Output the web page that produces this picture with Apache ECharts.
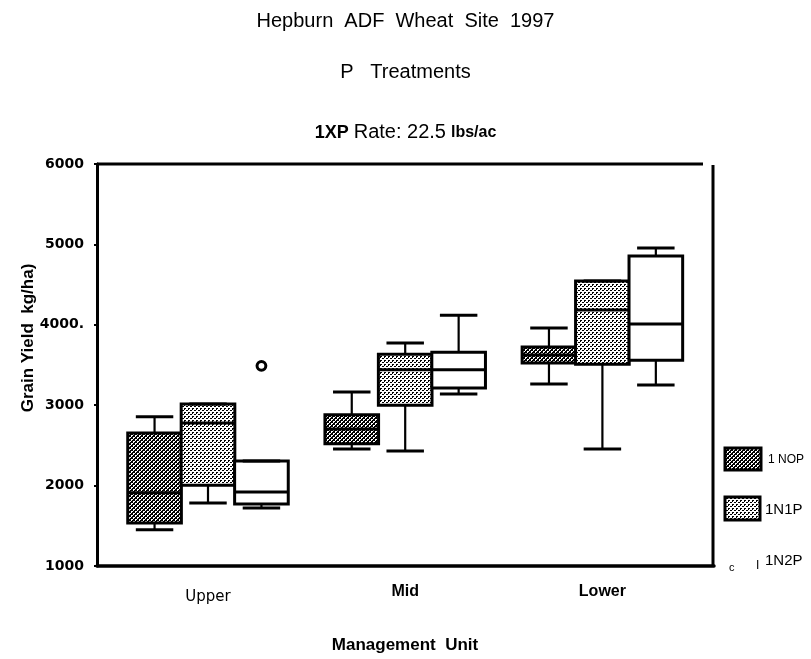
<!DOCTYPE html>
<html>
<head>
<meta charset="utf-8">
<script src="https://cdn.jsdelivr.net/npm/echarts@6/dist/echarts.min.js"></script>
<style>html,body{margin:0;padding:0;background:#fff}#c{width:811px;height:659px}</style>
</head>
<body>
<div id="c"></div>
<script>
// ---- data ----
const categories = ['Upper', 'Mid', 'Lower'];
const seriesNames = ['1 NOP', '1N1P', '1N2P'];
// [low whisker, Q1, median, Q3, high whisker] per category
const nopValues = [[1450, 1535, 1910, 2655, 2855], [2455, 2520, 2705, 2880, 3165], [3265, 3525, 3625, 3725, 3960]];
const n1pValues = [[1785, 2005, 2780, 3015, 3015], [2430, 3000, 3440, 3635, 3775], [2455, 3510, 4185, 4545, 4545]];
const n2pValues = [[1720, 1770, 1920, 2305, 2305], [3140, 3215, 3440, 3660, 4120], [3250, 3560, 4010, 4855, 4955]];
const n2pOutliers = [[0, 3490]];
const yTickLabels = ['1000', '2000', '3000', '4000.', '5000', '6000'];
const yMin = 1000, yMax = 6000, yStep = 1000;

// ---- patterns ----
function makeTile(size, fn) {
  const c = document.createElement('canvas');
  c.width = size; c.height = size;
  const ctx = c.getContext('2d');
  ctx.fillStyle = '#fff'; ctx.fillRect(0, 0, size, size);
  ctx.fillStyle = '#000';
  for (let x = 0; x < size; x++) for (let y = 0; y < size; y++) if (fn(x, y)) ctx.fillRect(x, y, 1, 1);
  return c;
}
const hatchTile = makeTile(4, (x, y) => ((x + y) % 4) < 2 || ((x - y + 4) % 4 === 2 && y % 2 === 0));
const dotTile = makeTile(4, (x, y) => (x === 0 && y === 0) || (x === 1 && y === 0) || (x === 2 && y === 2) || (x === 3 && y === 2) || (x === 0 && y === 1));
const fills = [
  { image: hatchTile, repeat: 'repeat' },
  { image: dotTile, repeat: 'repeat' },
  '#ffffff'
];
const OFF = [-0.271, 0, 0.271];
const BOXW = 0.272, CAPW = 0.19;

function boxRender(sIdx) {
  return function (params, api) {
    const ci = api.value(0);
    const band = api.size([1, 0])[0];
    const cx = api.coord([ci, yMin])[0] + OFF[sIdx] * band;
    const w = BOXW * band, cw = CAPW * band;
    const Y = v => api.coord([ci, v])[1];
    const lo = Y(api.value(1)), q1 = Y(api.value(2)), med = Y(api.value(3)), q3 = Y(api.value(4)), hi = Y(api.value(5));
    const ls = { stroke: '#000', lineWidth: 2.2 };
    const cs = { stroke: '#000', lineWidth: 3 };
    return {
      type: 'group',
      children: [
        { type: 'line', shape: { x1: cx, y1: q1, x2: cx, y2: lo }, style: ls },
        { type: 'line', shape: { x1: cx, y1: q3, x2: cx, y2: hi }, style: ls },
        { type: 'rect', shape: { x: cx - w / 2, y: q3, width: w, height: q1 - q3 }, style: { fill: fills[sIdx], stroke: '#000', lineWidth: 3 } },
        { type: 'line', shape: { x1: cx - w / 2, y1: med, x2: cx + w / 2, y2: med }, style: { stroke: '#000', lineWidth: 3 } },
        { type: 'line', shape: { x1: cx - cw / 2, y1: lo, x2: cx + cw / 2, y2: lo }, style: cs },
        { type: 'line', shape: { x1: cx - cw / 2, y1: hi, x2: cx + cw / 2, y2: hi }, style: cs }
      ]
    };
  };
}
function toData(arr) { return arr.map((r, i) => [i].concat(r)); }

function outlierRender(params, api) {
  const ci = api.value(0);
  const band = api.size([1, 0])[0];
  const p = api.coord([ci, api.value(1)]);
  return { type: 'circle', shape: { cx: p[0] + OFF[2] * band, cy: p[1], r: 4.4 }, style: { fill: '#fff', stroke: '#000', lineWidth: 3 } };
}

const chart = echarts.init(document.getElementById('c'), null, { renderer: 'canvas' });
const FONT = 'Liberation Sans, Arial, sans-serif';
chart.setOption({
  backgroundColor: '#fff',
  animation: false,
  title: [
    { text: 'Hepburn  ADF  Wheat  Site  1997', left: 'center', top: 11, padding: 0, textStyle: { fontSize: 20, fontWeight: 'normal', fontFamily: FONT, color: '#000' } },
    { text: 'P   Treatments', left: 'center', top: 62, padding: 0, textStyle: { fontSize: 20, fontWeight: 'normal', fontFamily: FONT, color: '#000' } },
    { text: '{a|1XP} {b|Rate: 22.5} {c|lbs/ac}', left: 'center', top: 118, padding: 0,
      textStyle: { fontFamily: FONT, color: '#000', rich: {
        a: { fontSize: 18, fontWeight: 'bold', fontFamily: FONT, color: '#000', lineHeight: 24, verticalAlign: 'bottom' },
        b: { fontSize: 20, fontWeight: 'normal', fontFamily: FONT, color: '#000', lineHeight: 24, verticalAlign: 'bottom' },
        c: { fontSize: 16, fontWeight: 'bold', fontFamily: FONT, color: '#000', lineHeight: 24, verticalAlign: 'bottom', padding: [0, 0, 1, 0] } } } }
  ],
  grid: [
    { left: 109.4, right: 110, top: 164, height: 402 },
    { left: 97, right: 97, top: 164, height: 402 }
  ],
  xAxis: [
    { type: 'category', gridIndex: 0, data: categories, boundaryGap: true,
      axisLine: { show: false }, axisTick: { show: false }, splitLine: { show: false },
      axisLabel: { margin: 18, formatter: (v, i) => (i === 0 ? '{u|' + v + '}' : '{b|' + v + '}'),
        rich: { u: { fontSize: 15, fontFamily: 'DejaVu Sans', color: '#000', padding: [6, 0, 0, 0] },
                b: { fontSize: 16, fontWeight: 'bold', fontFamily: FONT, color: '#000' } } } },
    { type: 'value', gridIndex: 1, min: 0, max: 1, show: true,
      axisLine: { show: true, onZero: false, lineStyle: { color: '#000', width: 3.5 } },
      axisTick: { show: false }, axisLabel: { show: false }, splitLine: { show: false } }
  ],
  yAxis: [
    { type: 'value', gridIndex: 0, min: yMin, max: yMax, interval: yStep, show: false, splitLine: { show: false } },
    { type: 'value', gridIndex: 1, min: yMin, max: yMax, interval: yStep,
      axisLine: { show: true, lineStyle: { color: '#000', width: 3 } },
      axisTick: { show: true, length: 3, lineStyle: { color: '#000', width: 2 } },
      splitLine: { show: false },
      axisLabel: { margin: 13, color: '#000', fontSize: 14, fontWeight: 'bold', fontFamily: 'DejaVu Sans',
        formatter: (v) => yTickLabels[Math.round((v - yMin) / yStep)] } }
  ],
  series: [
    { type: 'custom', name: seriesNames[0], xAxisIndex: 0, yAxisIndex: 0, data: toData(nopValues), renderItem: boxRender(0), encode: { x: 0, y: [1, 2, 3, 4, 5] } },
    { type: 'custom', name: seriesNames[1], xAxisIndex: 0, yAxisIndex: 0, data: toData(n1pValues), renderItem: boxRender(1), encode: { x: 0, y: [1, 2, 3, 4, 5] } },
    { type: 'custom', name: seriesNames[2], xAxisIndex: 0, yAxisIndex: 0, data: toData(n2pValues), renderItem: boxRender(2), encode: { x: 0, y: [1, 2, 3, 4, 5] } },
    { type: 'custom', name: seriesNames[2] + ' outliers', xAxisIndex: 0, yAxisIndex: 0, data: n2pOutliers, renderItem: outlierRender, encode: { x: 0, y: 1 } }
  ],
  graphic: [
    { type: 'line', shape: { x1: 97, y1: 164, x2: 703, y2: 164 }, style: { stroke: '#000', lineWidth: 3 } },
    { type: 'line', shape: { x1: 713, y1: 165, x2: 713, y2: 567 }, style: { stroke: '#000', lineWidth: 3 } },
    { type: 'text', x: 28, y: 338, rotation: Math.PI / 2, style: { text: 'Grain Yield  kg/ha)', font: 'bold 17px ' + FONT, fill: '#000', textAlign: 'center', textVerticalAlign: 'middle' } },
    { type: 'text', x: 405, y: 645, style: { text: 'Management  Unit', font: 'bold 17px ' + FONT, fill: '#000', textAlign: 'center', textVerticalAlign: 'middle' } },
    { type: 'rect', shape: { x: 725, y: 448, width: 36, height: 22 }, style: { fill: fills[0], stroke: '#000', lineWidth: 3 } },
    { type: 'text', x: 768, y: 460, style: { text: seriesNames[0], font: '12px ' + FONT, fill: '#000', textVerticalAlign: 'middle' } },
    { type: 'rect', shape: { x: 725, y: 497, width: 35, height: 23 }, style: { fill: fills[1], stroke: '#000', lineWidth: 3 } },
    { type: 'text', x: 765, y: 510, style: { text: seriesNames[1], font: '15px ' + FONT, fill: '#000', textVerticalAlign: 'middle' } },
    { type: 'text', x: 729, y: 568, style: { text: 'c', font: '11px ' + FONT, fill: '#000', textVerticalAlign: 'middle' } },
    { type: 'text', x: 756, y: 566, style: { text: 'I', font: '12px ' + FONT, fill: '#000', textVerticalAlign: 'middle' } },
    { type: 'text', x: 765, y: 561, style: { text: seriesNames[2], font: '15px ' + FONT, fill: '#000', textVerticalAlign: 'middle' } }
  ]
});
</script>
</body>
</html>
